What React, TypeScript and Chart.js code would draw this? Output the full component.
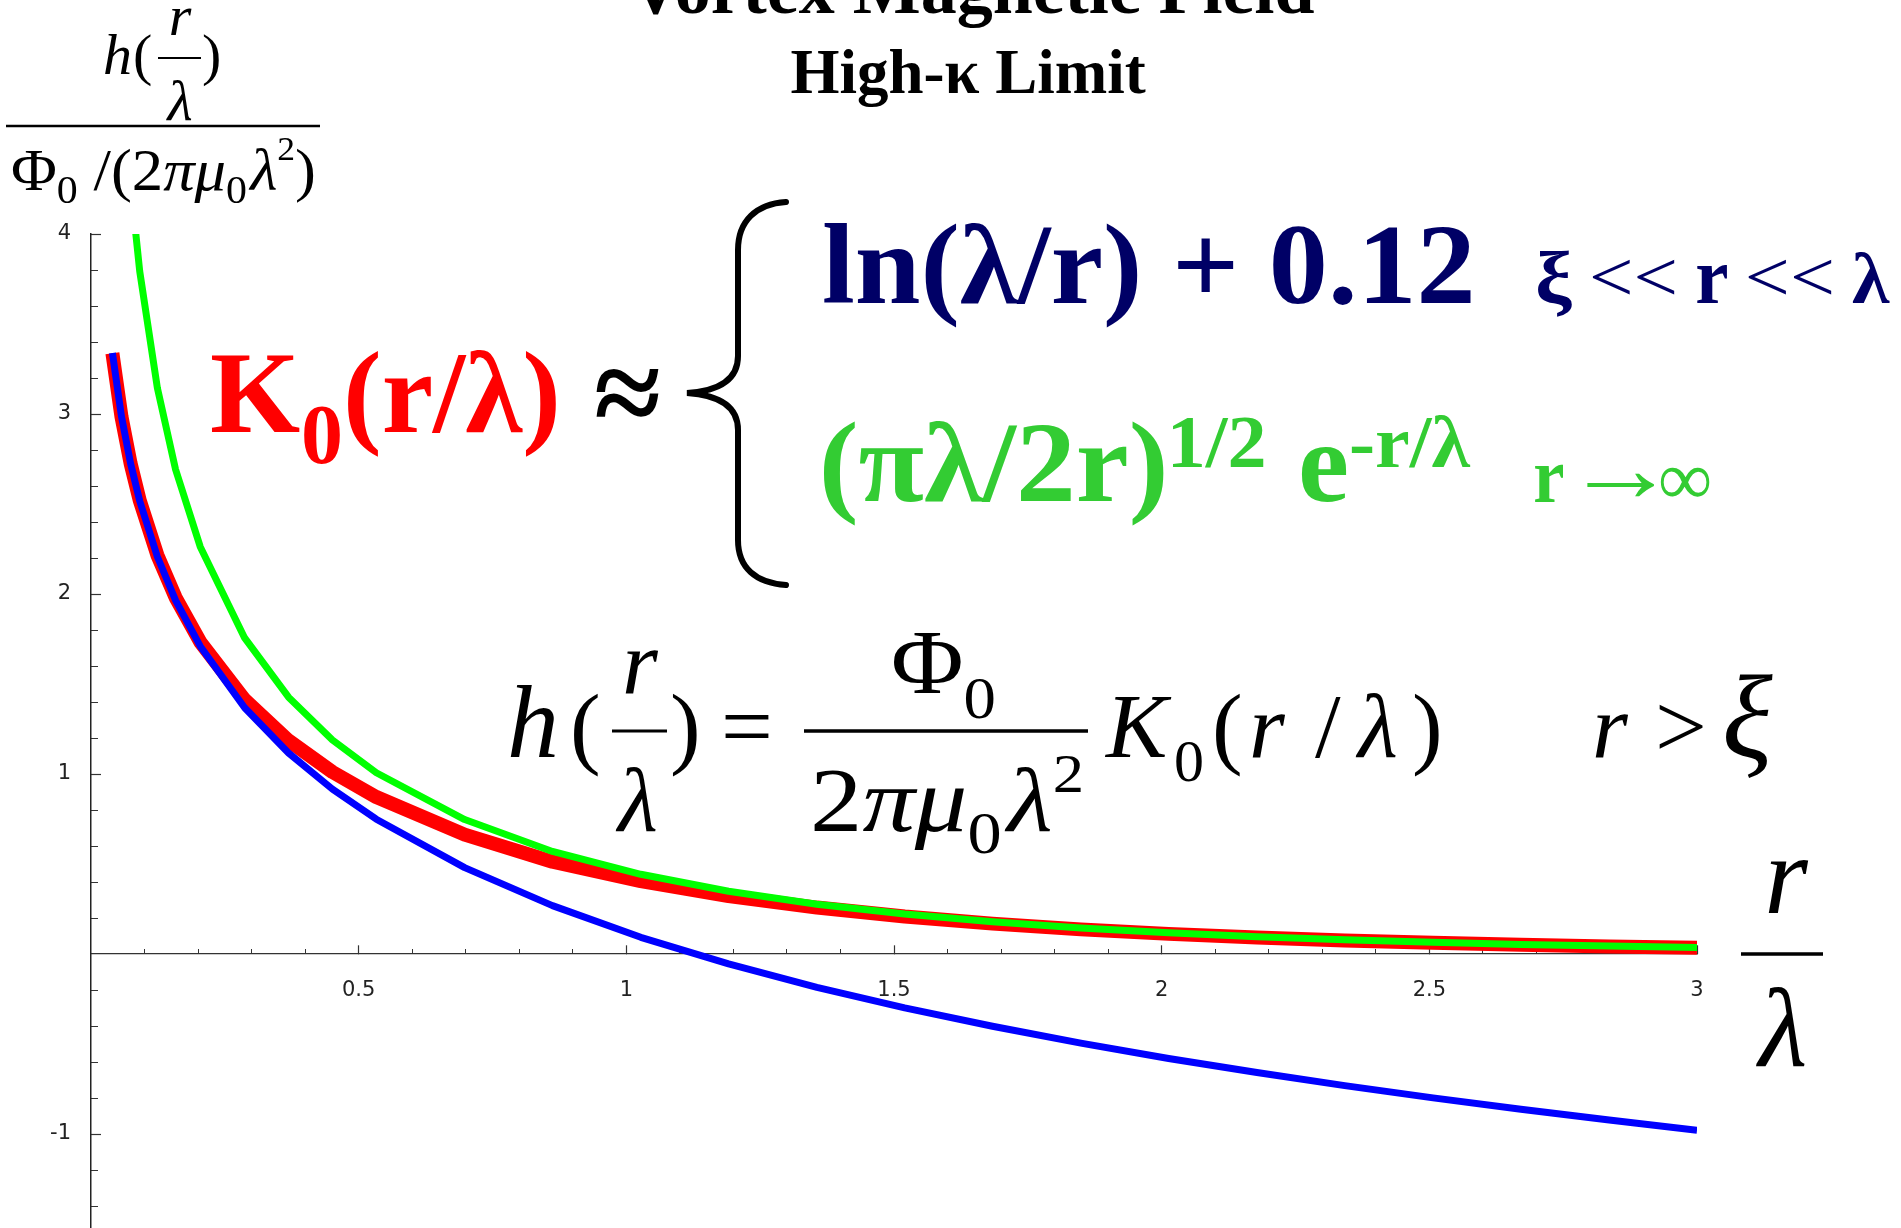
import { useEffect, useRef } from 'react';
import { Chart, registerables } from 'chart.js';

Chart.register(...registerables);

// r / lambda sample positions read from the plotted polylines
const rOverLambda = [0.04, 0.057, 0.074, 0.091, 0.124, 0.158, 0.204, 0.287, 0.369, 0.451, 0.533, 0.698, 0.862, 1.027, 1.191, 1.356, 1.52, 1.684, 1.849, 2.013, 2.178, 2.342, 2.507, 2.671, 2.836, 3.0];
// red: K0(r/lambda)
const besselK0 = [3.337, 2.984, 2.725, 2.52, 2.216, 1.98, 1.734, 1.413, 1.186, 1.011, 0.872, 0.663, 0.513, 0.405, 0.322, 0.258, 0.208, 0.169, 0.137, 0.112, 0.092, 0.075, 0.062, 0.051, 0.042, 0.035];
// blue: ln(lambda/r) + 0.12
const logApprox = [3.339, 2.985, 2.724, 2.517, 2.207, 1.965, 1.71, 1.368, 1.117, 0.916, 0.749, 0.48, 0.269, 0.093, -0.055, -0.185, -0.299, -0.401, -0.495, -0.58, -0.658, -0.731, -0.799, -0.862, -0.922, -0.979];
// green: (pi lambda / 2r)^(1/2) e^(-r/lambda)
const asymApprox = [6.021, 4.959, 4.279, 3.793, 3.144, 2.692, 2.263, 1.756, 1.427, 1.189, 1.007, 0.747, 0.57, 0.443, 0.349, 0.277, 0.222, 0.179, 0.145, 0.118, 0.096, 0.079, 0.065, 0.053, 0.044, 0.036];

const xMajorTicks = [0.5, 1, 1.5, 2, 2.5, 3];
const xMinorTicks = [0.1, 0.2, 0.3, 0.4, 0.6, 0.7, 0.8, 0.9, 1.1, 1.2, 1.3, 1.4, 1.6, 1.7, 1.8, 1.9, 2.1, 2.2, 2.3, 2.4, 2.6, 2.7, 2.8, 2.9];
const yMajorTicks = [-1, 1, 2, 3, 4];
const yMinorTicks = [-1.4, -1.2, -0.8, -0.6, -0.4, -0.2, 0.2, 0.4, 0.6, 0.8, 1.2, 1.4, 1.6, 1.8, 2.2, 2.4, 2.6, 2.8, 3.2, 3.4, 3.6, 3.8];

const SERIF = '"Liberation Serif", "Times New Roman", serif';
const TICKFONT = '"DejaVu Sans", sans-serif';
const RED = '#ff0000';
const NAVY = '#000066';
const GREEN_TXT = '#33cc33';

const f = (style: string, size: number) => `${style} ${size}px ${SERIF}`;

function put(ctx: CanvasRenderingContext2D, text: string, x: number, y: number, font: string, color = '#000', align: CanvasTextAlign = 'left') {
  ctx.font = font;
  ctx.fillStyle = color;
  ctx.textAlign = align;
  ctx.textBaseline = 'alphabetic';
  ctx.fillText(text, x, y);
  return ctx.measureText(text).width;
}

// draw text so that its ink box fills the given rectangle
function putInk(ctx: CanvasRenderingContext2D, text: string, font: string, color: string, x1: number, y1: number, x2: number, y2: number) {
  ctx.font = font;
  const m = ctx.measureText(text);
  const w = m.actualBoundingBoxLeft + m.actualBoundingBoxRight;
  const h = m.actualBoundingBoxAscent + m.actualBoundingBoxDescent;
  ctx.save();
  ctx.translate(x1, y1);
  ctx.scale((x2 - x1) / w, (y2 - y1) / h);
  ctx.fillStyle = color;
  ctx.textAlign = 'left';
  ctx.textBaseline = 'alphabetic';
  ctx.fillText(text, m.actualBoundingBoxLeft, m.actualBoundingBoxAscent);
  ctx.restore();
}

// draw text on a baseline, stretched horizontally so its ink spans x1..x2
function putW(ctx: CanvasRenderingContext2D, text: string, font: string, color: string, x1: number, x2: number, y: number) {
  ctx.font = font;
  const m = ctx.measureText(text);
  const w = m.actualBoundingBoxLeft + m.actualBoundingBoxRight;
  ctx.save();
  ctx.translate(x1, y);
  ctx.scale((x2 - x1) / w, 1);
  ctx.fillStyle = color;
  ctx.textAlign = 'left';
  ctx.textBaseline = 'alphabetic';
  ctx.fillText(text, m.actualBoundingBoxLeft, 0);
  ctx.restore();
}

type Run = [string, string, number];
// draw runs (text, font, dy) along a baseline, scaled to span x1..x2
function runsFit(ctx: CanvasRenderingContext2D, runs: Run[], x1: number, x2: number, y: number, color = '#000') {
  let total = 0;
  for (const [t, font] of runs) {
    ctx.font = font;
    total += ctx.measureText(t).width;
  }
  ctx.save();
  ctx.translate(x1, y);
  ctx.scale((x2 - x1) / total, 1);
  let x = 0;
  for (const [t, font, dy] of runs) {
    x += put(ctx, t, x, dy, font, color);
  }
  ctx.restore();
}

function bar(ctx: CanvasRenderingContext2D, x1: number, x2: number, y: number, w: number, color = '#000') {
  ctx.fillStyle = color;
  ctx.fillRect(x1, y - w / 2, x2 - x1, w);
}

const annotations = {
  id: 'annotations',
  afterDraw(chart: any) {
    const ctx: CanvasRenderingContext2D = chart.ctx;
    ctx.save();

    // titles
    put(ctx, 'Vortex Magnetic Field', 972, 13, f('bold', 72), '#000', 'center');
    put(ctx, 'High-κ Limit', 968, 93, f('bold', 63), '#000', 'center');

    // y-axis label
    put(ctx, 'h', 103, 74, f('italic', 58));
    put(ctx, '(', 133, 74, f('normal', 58));
    put(ctx, 'r', 180, 35, f('italic', 58), '#000', 'center');
    bar(ctx, 158, 201, 58, 2);
    put(ctx, 'λ', 180, 120, f('italic', 58), '#000', 'center');
    put(ctx, ')', 202, 74, f('normal', 58));
    bar(ctx, 6, 320, 126, 2.5);
    runsFit(ctx, [
      ['Φ', f('normal', 60), 0],
      ['0', f('normal', 40), 13],
      [' /(2', f('normal', 60), 0],
      ['π', f('italic', 60), 0],
      ['μ', f('italic', 60), 0],
      ['0', f('normal', 40), 13],
      [' ', f('normal', 12), 0],
      ['λ', f('italic', 60), 0],
      ['2', f('normal', 34), -30],
      [')', f('normal', 60), 0],
    ], 11, 316, 190);

    // K0 approx
    put(ctx, 'K', 210, 432, f('bold', 116), RED);
    put(ctx, '0', 301, 463, f('bold', 84), RED);
    put(ctx, '(r/λ)', 343, 432, f('bold', 116), RED);
    putInk(ctx, '≈', f('bold', 120), '#000', 596, 369, 659, 418);

    // brace
    ctx.strokeStyle = '#000';
    ctx.lineWidth = 6;
    ctx.lineCap = 'round';
    ctx.beginPath();
    ctx.moveTo(786, 202);
    ctx.bezierCurveTo(756, 204, 738, 221, 738, 250);
    ctx.lineTo(738, 356);
    ctx.bezierCurveTo(738, 380, 718, 391, 687, 393);
    ctx.bezierCurveTo(718, 395, 738, 406, 738, 430);
    ctx.lineTo(738, 540);
    ctx.bezierCurveTo(738, 568, 756, 583, 786, 585);
    ctx.stroke();

    // blue branch
    putW(ctx, 'ln(λ/r) + 0.12', f('bold', 115), NAVY, 824, 1471, 303);
    putInk(ctx, 'ξ', f('bold', 78), NAVY, 1537, 250, 1572, 318);
    putInk(ctx, '<<', f('normal', 76), NAVY, 1592, 259, 1675, 295);
    putInk(ctx, 'r', f('bold', 80), NAVY, 1697, 265, 1727, 303);
    putInk(ctx, '<<', f('normal', 76), NAVY, 1748, 259, 1832, 295);
    putInk(ctx, 'λ', f('bold', 76), NAVY, 1852, 252, 1890, 303);

    // green branch
    putW(ctx, '(πλ/2r)', f('bold', 115), GREEN_TXT, 824, 1164, 501);
    putW(ctx, '1/2', f('bold', 75), GREEN_TXT, 1173, 1264, 467);
    putW(ctx, 'e', f('bold', 115), GREEN_TXT, 1301, 1347, 501);
    putW(ctx, '-r/λ', f('bold', 75), GREEN_TXT, 1351, 1471, 467);
    putW(ctx, 'r', f('bold', 78), GREEN_TXT, 1535, 1563, 502);
    putInk(ctx, '→', f('normal', 76), GREEN_TXT, 1587, 473, 1655, 497);
    putInk(ctx, '∞', f('normal', 76), GREEN_TXT, 1660, 467, 1710, 497);

    // main formula
    const I = f('italic', 92);
    const R = f('normal', 92);
    const BASE = 757;
    put(ctx, 'h', 507, BASE, f('italic', 104));
    put(ctx, '(', 570, BASE, R);
    put(ctx, 'r', 640, 693, I, '#000', 'center');
    bar(ctx, 612, 667, 731, 3);
    put(ctx, 'λ', 638, 831, I, '#000', 'center');
    put(ctx, ')', 670, BASE, R);
    put(ctx, '=', 721, BASE, R);
    bar(ctx, 804, 1088, 731, 3.5);
    runsFit(ctx, [['Φ', R, 0], ['0', f('normal', 60), 25]], 891, 996, 693);
    runsFit(ctx, [
      ['2', R, 0],
      ['π', I, 0],
      ['μ', I, 0],
      ['0', f('normal', 60), 22],
      [' ', f('normal', 20), 0],
      ['λ', I, 0],
      ['2', f('normal', 55), -39],
    ], 810, 1084, 831);
    put(ctx, 'K', 1106, BASE, I);
    put(ctx, '0', 1174, 781, f('normal', 60));
    put(ctx, '(', 1212, BASE, R);
    put(ctx, 'r', 1249, BASE, I);
    put(ctx, '/', 1315, BASE, R);
    put(ctx, 'λ', 1358, BASE, I);
    put(ctx, ')', 1412, BASE, R);
    put(ctx, 'r', 1592, BASE, I);
    put(ctx, '>', 1655, BASE, R);
    put(ctx, 'ξ', 1722, BASE, f('italic', 118));

    // x-axis label r / lambda
    put(ctx, 'r', 1786, 913, f('italic', 112), '#000', 'center');
    bar(ctx, 1741, 1823, 954, 3.5);
    put(ctx, 'λ', 1783, 1066, f('italic', 112), '#000', 'center');

    ctx.restore();
  },
};

const Y_MIN = -1.522;
const Y_MAX = 4;

export default function App() {
  const ref = useRef<HTMLCanvasElement>(null);

  useEffect(() => {
    document.body.style.margin = '0';
    document.body.style.overflow = 'hidden';
    const pts = (ys: number[]) => rOverLambda.map((x, i) => ({ x, y: ys[i] }));
    const lineCommon = { pointRadius: 0, tension: 0, clip: 0, borderJoinStyle: 'round', borderCapStyle: 'butt', fill: false, xAxisID: 'x', yAxisID: 'y' };
    const chart = new Chart(ref.current as HTMLCanvasElement, {
      type: 'line',
      data: {
        datasets: [
          { ...lineCommon, label: 'ln(λ/r)+0.12', data: pts(logApprox), borderColor: '#0000ff', borderWidth: 7, order: 1 },
          { ...lineCommon, label: '(πλ/2r)^1/2 e^-r/λ', data: pts(asymApprox), borderColor: '#00ff00', borderWidth: 7, order: 2 },
          { ...lineCommon, label: 'K0(r/λ)', data: pts(besselK0), borderColor: '#ff0000', borderWidth: 14, order: 3 },
        ] as any,
      },
      plugins: [annotations],
      options: {
        animation: false,
        responsive: false,
        devicePixelRatio: 1,
        layout: { padding: { left: 51, right: 204, top: 234, bottom: 0 } },
        plugins: { legend: { display: false }, tooltip: { enabled: false } },
        scales: {
          x: {
            type: 'linear',
            min: 0,
            max: 3,
            position: { y: 0 },
            afterBuildTicks: (s: any) => { s.ticks = xMajorTicks.map((v) => ({ value: v })); },
            grid: { drawOnChartArea: false, tickLength: -9, tickColor: '#333', tickWidth: 1.2 },
            border: { display: true, color: '#333', width: 1.3 },
            ticks: {
              padding: 33,
              color: '#222',
              font: { family: TICKFONT, size: 21 },
              maxRotation: 0,
              autoSkip: false,
              callback: (v: any) => String(v),
            },
          },
          xMinor: {
            type: 'linear',
            min: 0,
            max: 3,
            position: { y: 0 },
            afterBuildTicks: (s: any) => { s.ticks = xMinorTicks.map((v) => ({ value: v })); },
            grid: { drawOnChartArea: false, tickLength: -5, tickColor: '#333', tickWidth: 1 },
            border: { display: false },
            ticks: { display: false },
          },
          y: {
            type: 'linear',
            min: Y_MIN,
            max: Y_MAX,
            position: 'left',
            weight: 1,
            afterBuildTicks: (s: any) => { s.ticks = yMajorTicks.map((v) => ({ value: v })); },
            afterFit: (s: any) => { s.width = 40; s.paddingTop = 0; s.paddingBottom = 0; },
            grid: { drawOnChartArea: false, tickLength: -10, tickColor: '#333', tickWidth: 1.2 },
            border: { display: true, color: '#222', width: 1.5 },
            ticks: {
              padding: 30,
              color: '#222',
              font: { family: TICKFONT, size: 21 },
              autoSkip: false,
              callback: (v: any) => String(v),
            },
          },
          yMinor: {
            type: 'linear',
            min: Y_MIN,
            max: Y_MAX,
            position: 'left',
            weight: 0,
            afterBuildTicks: (s: any) => { s.ticks = yMinorTicks.map((v) => ({ value: v })); },
            afterFit: (s: any) => { s.width = 0; s.paddingTop = 0; s.paddingBottom = 0; },
            grid: { drawOnChartArea: false, tickLength: -7, tickColor: '#333', tickWidth: 1 },
            border: { display: false },
            ticks: { display: false },
          },
        },
      } as any,
    });
    return () => chart.destroy();
  }, []);

  return (
    <div style={{ width: 1901, height: 1228, background: '#fff' }}>
      <canvas ref={ref} width={1901} height={1228} style={{ display: 'block', width: 1901, height: 1228 }} />
    </div>
  );
}
